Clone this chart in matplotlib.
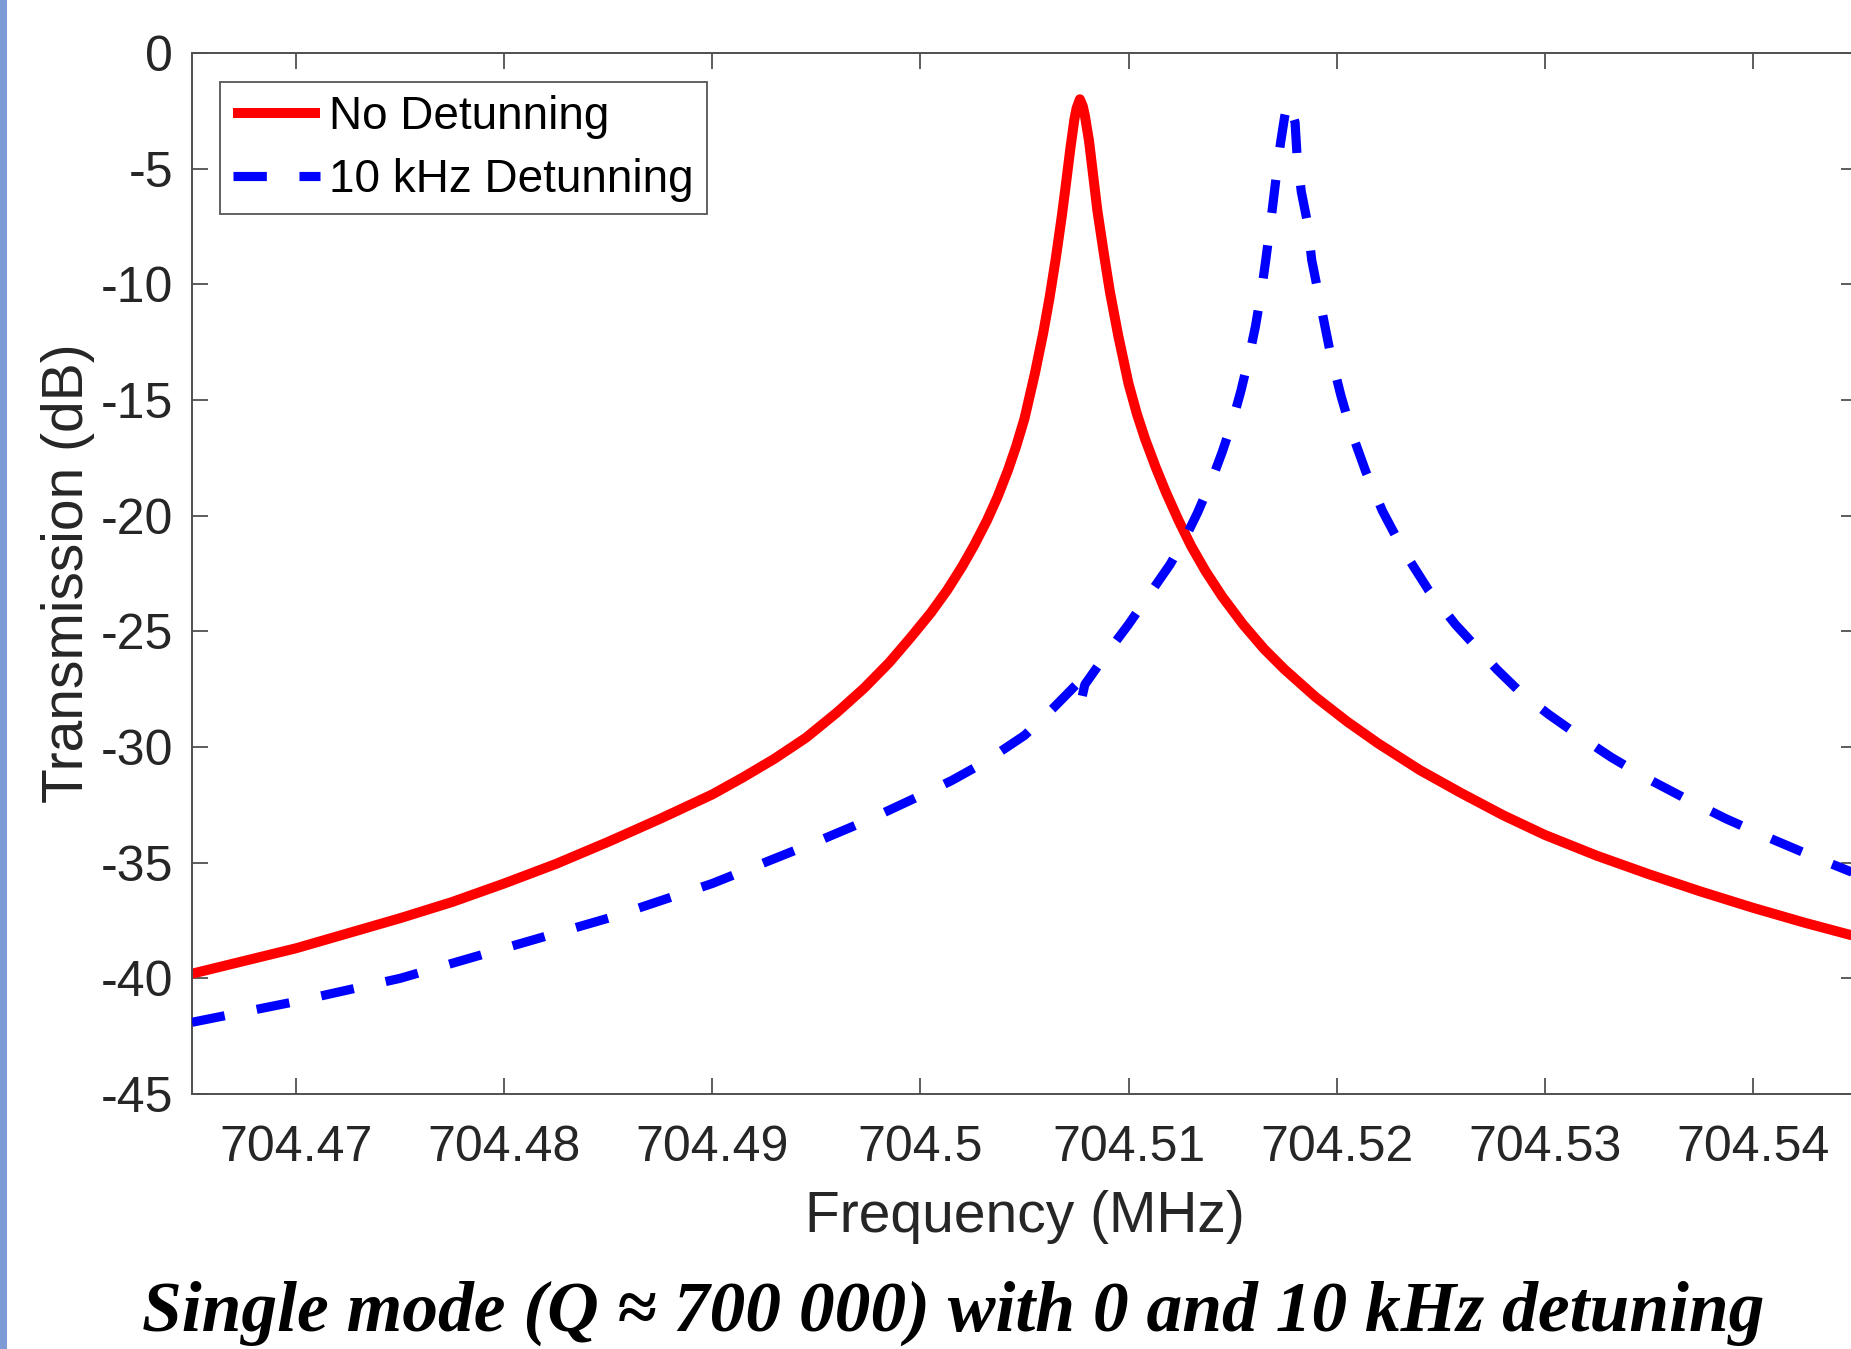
import matplotlib
matplotlib.use("Agg")
import matplotlib.pyplot as plt
from matplotlib.patches import Rectangle

# Measured transmission, no detuning (frequency in MHz, transmission in dB)
freq_no_detuning = [704.4650, 704.4675, 704.4700, 704.4725, 704.4750, 704.4775, 704.4800,
                    704.4825, 704.4850, 704.4875, 704.4900, 704.4915, 704.4930, 704.4945,
                    704.4960, 704.4973, 704.4985, 704.4995, 704.5005, 704.5013, 704.5020,
                    704.5026, 704.5032, 704.5037, 704.5042, 704.5046, 704.5050, 704.5055,
                    704.5059, 704.5062, 704.5065, 704.5068, 704.5070, 704.5072, 704.5074,
                    704.5075, 704.50766, 704.5078, 704.5079, 704.5081, 704.5083, 704.5085,
                    704.5088, 704.5091, 704.5095, 704.5100, 704.5104, 704.5108, 704.5113,
                    704.5118, 704.5124, 704.5130, 704.5137, 704.5145, 704.5155, 704.5165,
                    704.5175, 704.5190, 704.5205, 704.5220, 704.5240, 704.5260, 704.5280,
                    704.5300, 704.5325, 704.5350, 704.5375, 704.5400, 704.5425, 704.5450]
db_no_detuning = [-39.8, -39.25, -38.7, -38.05, -37.4, -36.7, -35.9,
                  -35.05, -34.1, -33.1, -32.05, -31.3, -30.5, -29.6,
                  -28.5, -27.45, -26.35, -25.3, -24.2, -23.2, -22.2,
                  -21.25, -20.2, -19.2, -18.05, -17.0, -15.8, -13.85,
                  -12.1, -10.6, -8.9, -7.0, -5.6, -4.15, -2.85,
                  -2.4, -2.0, -2.3, -2.7, -3.8, -5.3, -6.8,
                  -8.6, -10.3, -12.2, -14.3, -15.6, -16.7, -17.9,
                  -19.0, -20.2, -21.3, -22.4, -23.5, -24.7, -25.75,
                  -26.65, -27.85, -28.9, -29.85, -31.0, -32.0, -32.95,
                  -33.8, -34.7, -35.5, -36.25, -36.95, -37.6, -38.2]

# Measured transmission, 10 kHz detuning
freq_10khz = [704.4650, 704.4700, 704.4750, 704.4800, 704.4850, 704.4900, 704.4950,
              704.4975, 704.5000, 704.5015, 704.5030, 704.5050, 704.5064, 704.5076,
              704.5077, 704.5079, 704.5090, 704.5100, 704.5110, 704.5120, 704.5127,
              704.5133, 704.5140, 704.5145, 704.5150, 704.5154, 704.5158, 704.5161,
              704.5164, 704.5166, 704.5169, 704.5171, 704.5173, 704.5175, 704.51766,
              704.5178, 704.5180, 704.5181, 704.5183, 704.5186, 704.5188, 704.5191,
              704.5197, 704.5202, 704.5207, 704.5214, 704.5222, 704.5232, 704.5244,
              704.5257, 704.5277, 704.5289, 704.5302, 704.5317, 704.5332, 704.5349,
              704.5367, 704.5387, 704.5407, 704.5428, 704.5450]
db_10khz = [-41.9, -41.0, -40.0, -38.7, -37.4, -35.9, -34.1,
            -33.15, -32.1, -31.45, -30.7, -29.5, -28.3, -27.2,
            -28.1, -27.3, -25.9, -24.7, -23.4, -22.1, -21.0,
            -19.9, -18.45, -17.25, -15.9, -14.6, -13.1, -11.8,
            -10.2, -8.9, -6.8, -5.3, -3.9, -2.75, -2.1,
            -2.4, -3.0, -4.5, -6.0, -7.35, -8.95, -10.3,
            -13.0, -14.8, -16.35, -18.1, -19.8, -21.5, -23.2,
            -24.7, -26.65, -27.7, -28.6, -29.55, -30.45, -31.35,
            -32.2, -33.1, -33.9, -34.7, -35.5]

series_labels = ["No Detunning", "10 kHz Detunning"]

x_ticks = [704.47, 704.48, 704.49, 704.50, 704.51, 704.52, 704.53, 704.54]
x_tick_labels = ["704.47", "704.48", "704.49", "704.5", "704.51", "704.52", "704.53", "704.54"]
y_ticks = [0, -5, -10, -15, -20, -25, -30, -35, -40, -45]
y_tick_labels = ["0", "-5", "-10", "-15", "-20", "-25", "-30", "-35", "-40", "-45"]
x_limits = (704.465, 704.545)
y_limits = (-45, 0)

caption = "Single mode (Q \u2248 700 000) with 0 and 10 kHz detuning"

W, H, DPI = 1851, 1349, 100
plt.rcParams["font.family"] = ["Liberation Sans", "DejaVu Sans"]
plt.rcParams["lines.scale_dashes"] = False

fig = plt.figure(figsize=(W / DPI, H / DPI), dpi=DPI)
fig.patch.set_facecolor("white")

# thin accent bar along the left edge
fig.add_artist(Rectangle((0, 0), 7 / W, 1, transform=fig.transFigure,
                         facecolor="#7b9ad6", edgecolor="none"))

ax_left, ax_right, ax_top, ax_bottom = 192, 1857, 53, 1094
ax = fig.add_axes([ax_left / W, 1 - ax_bottom / H,
                   (ax_right - ax_left) / W, (ax_bottom - ax_top) / H])

ax.plot(freq_no_detuning, db_no_detuning, color="#ff0000", lw=7.2,
        solid_joinstyle="round", solid_capstyle="butt",
        label=series_labels[0], zorder=2)
ax.plot(freq_10khz, db_10khz, color="#0000ff", lw=6.6,
        linestyle=(0, (24, 23.5)), dash_capstyle="butt", dash_joinstyle="round",
        label=series_labels[1], zorder=3)

ax.set_xlim(*x_limits)
ax.set_ylim(*y_limits)
ax.set_xticks(x_ticks)
ax.set_xticklabels(x_tick_labels)
ax.set_yticks(y_ticks)
ax.set_yticklabels(y_tick_labels)

spine_color = "#505050"
for s in ax.spines.values():
    s.set_color(spine_color)
    s.set_linewidth(1.4)

ax.tick_params(axis="both", which="major", direction="in", length=11.5, width=1.3,
               color=spine_color, labelcolor="#262626", labelsize=36,
               top=True, right=True)
ax.tick_params(axis="x", pad=22)
ax.tick_params(axis="y", pad=13.5)

ax.set_xlabel("Frequency (MHz)", fontsize=41, color="#262626", va="center")
ax.xaxis.set_label_coords(0.5, (ax_bottom - 1217) / (ax_bottom - ax_top))
ax.set_ylabel("Transmission (dB)", fontsize=41, color="#262626",
              va="center", ha="center")
ax.yaxis.set_label_coords((68 - ax_left) / (ax_right - ax_left), 0.5)

leg = ax.legend(loc="upper left", bbox_to_anchor=(220 / W, 1 - 82 / H),
                bbox_transform=fig.transFigure, borderaxespad=0,
                fontsize=33, frameon=True, fancybox=False, framealpha=1,
                edgecolor="#555555", handlelength=1.9, handletextpad=0.2,
                labelspacing=0.41, borderpad=0.28)
leg.get_frame().set_linewidth(1.3)
for t in leg.get_texts():
    t.set_color("black")

# caption under the chart, fitted to its line width
cap = fig.text(953.5 / W, 1 - 1331 / H, caption, ha="center", va="baseline",
               family=["Liberation Serif", "DejaVu Serif"], style="italic",
               fontweight="bold", fontsize=60, color="black")
fig.canvas.draw()
bb = cap.get_window_extent()
cap.set_fontsize(60 * 1623 / bb.width)

fig.savefig("out.png", dpi=DPI, facecolor="white")
